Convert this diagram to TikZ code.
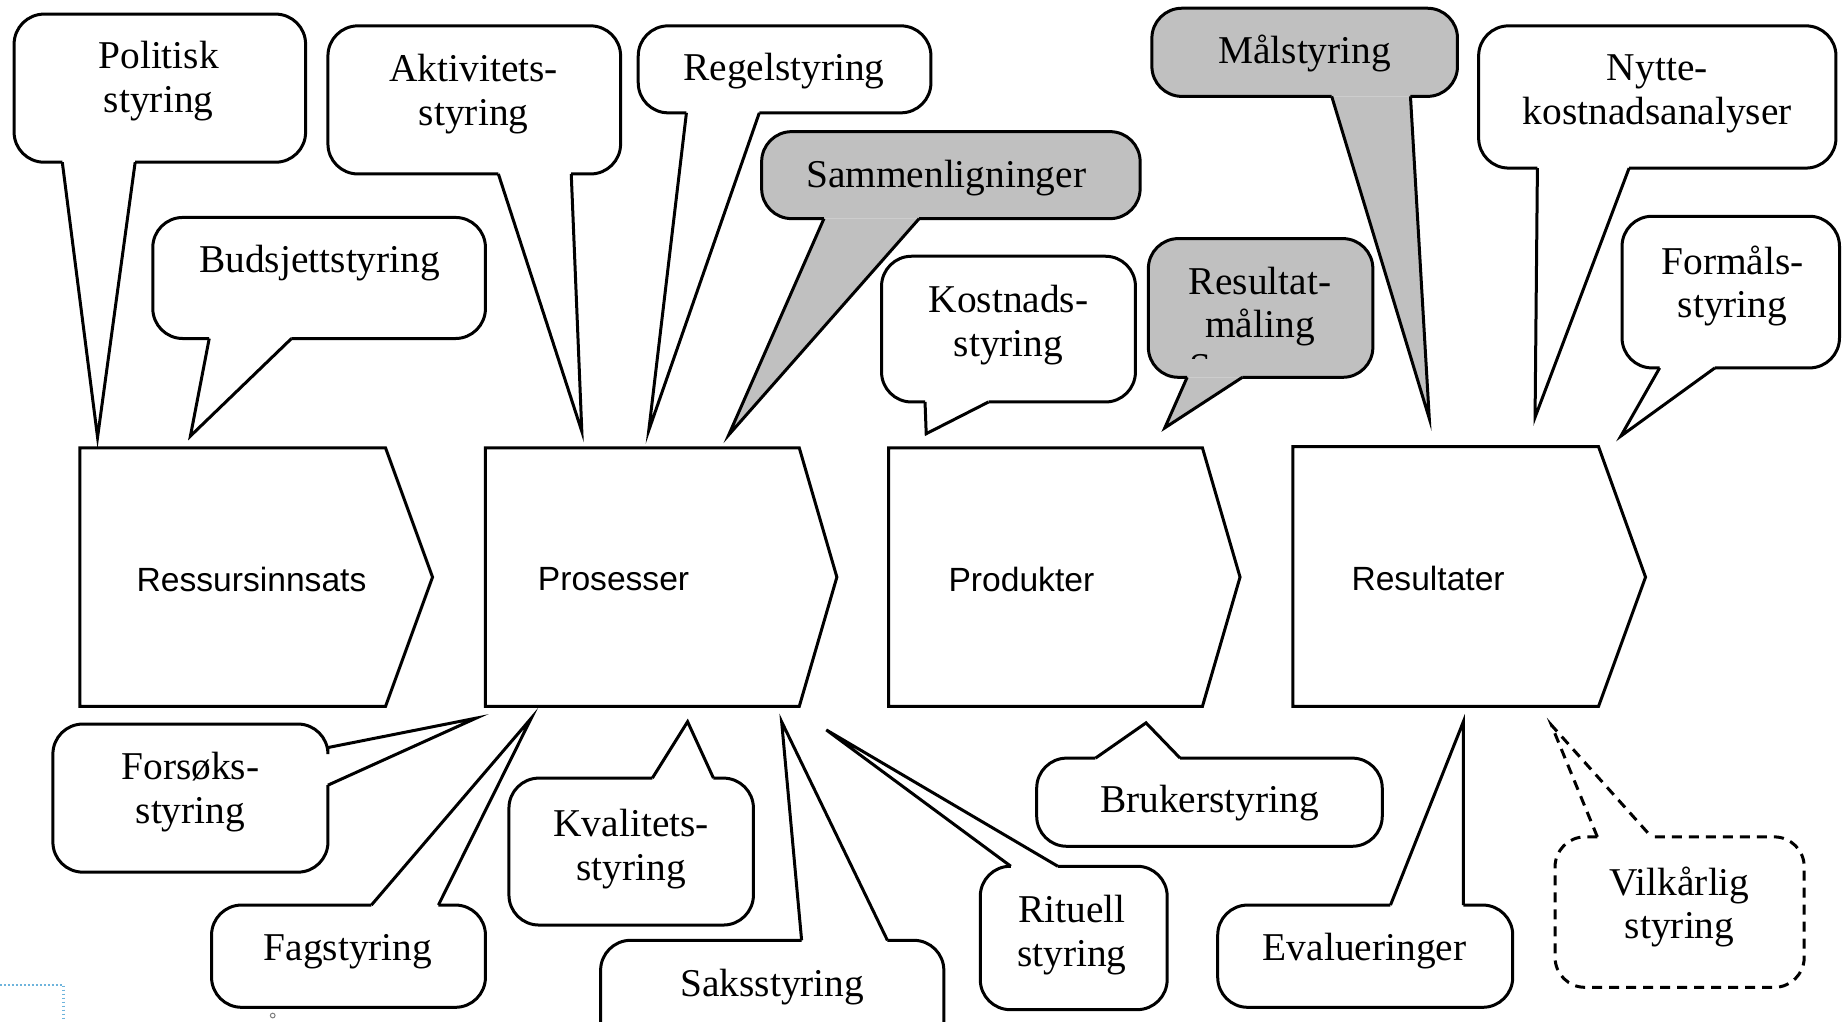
\documentclass[tikz,border=0pt]{standalone}
\usepackage{fontspec}
\setmainfont{Liberation Serif}
\newfontfamily\arialfont{Liberation Sans}
\definecolor{bubblegray}{RGB}{192,192,192}
\definecolor{dotblue}{RGB}{110,180,220}
% #1 fill style, #2 x1, #3 y1, #4 x2, #5 y2, #6 base a, #7 tip, #8 base b
\newcommand\bubbleB[8]{%
  \fill[#1,draw=none,bubble corners] (#2,#3) rectangle (#4,#5);
  \fill[#1,draw=none] (#6) -- (#7) -- (#8) -- cycle;
  \draw[#1,fill=none,bubble corners] (#6) -- (#2,#5) -- (#2,#3) -- (#4,#3) -- (#4,#5) -- (#8);
  \draw[#1,fill=none] (#6) -- (#7) -- (#8);}
\newcommand\bubbleT[8]{%
  \fill[#1,draw=none,bubble corners] (#2,#3) rectangle (#4,#5);
  \fill[#1,draw=none] (#6) -- (#7) -- (#8) -- cycle;
  \draw[#1,fill=none,bubble corners] (#6) -- (#2,#3) -- (#2,#5) -- (#4,#5) -- (#4,#3) -- (#8);
  \draw[#1,fill=none] (#6) -- (#7) -- (#8);}
\newcommand\bubbleR[8]{%
  \fill[#1,draw=none,bubble corners] (#2,#3) rectangle (#4,#5);
  \fill[#1,draw=none] (#6) -- (#7) -- (#8) -- cycle;
  \draw[#1,fill=none,bubble corners] (#6) -- (#4,#3) -- (#2,#3) -- (#2,#5) -- (#4,#5) -- (#8);
  \draw[#1,fill=none] (#6) -- (#7) -- (#8);}
\begin{document}
\begin{tikzpicture}[x=0.5877pt,y=-0.5877pt,line width=1.5pt,line join=miter,
  bubble corners/.style={rounded corners=15pt},
  lbl/.style={font=\fontsize{19.7}{21.7}\selectfont,inner sep=0pt,align=center,yshift=-2pt},
  alab/.style={font=\arialfont\fontsize{16.8}{20}\selectfont,inner sep=0pt},
  stage/.style={draw,fill=white,line width=1.5pt},
  white bubble/.style={fill=white},
  gray bubble/.style={fill=bubblegray},
  dash bubble/.style={fill=white,dash pattern=on 5pt off 3.5pt}]
\useasboundingbox (0,0) rectangle (1568,869);
\clip (0,0) rectangle (1568,869);
\fill[white] (0,0) rectangle (1568,869);

% stages
\draw[stage] (68,381) -- (328,381) -- (368,491) -- (328,601) -- (68,601) -- cycle;
\node[alab] (ress) at (214,493) {Ressursinnsats};
\draw[stage] (413,381) -- (680,381) -- (712,491) -- (680,601) -- (413,601) -- cycle;
\node[alab] (pros) at (522,493) {Prosesser};
\draw[stage] (756,381) -- (1023,381) -- (1055,491) -- (1023,601) -- (756,601) -- cycle;
\node[alab] (prod) at (869,493) {Produkter};
\draw[stage] (1100,380) -- (1360,380) -- (1400,491) -- (1360,601) -- (1100,601) -- cycle;
\node[alab] (resu) at (1215,492) {Resultater};

% top callouts
\bubbleB{white bubble}{12}{12}{260}{138}{53,138}{83,372}{115,138}
\node[lbl] (politisk) at (135,65.5) {Politisk\\styring};
\bubbleB{white bubble}{130}{185}{413}{288}{178,288}{162,371}{248,288}
\node[lbl] (budsjett) at (272,220) {Budsjettstyring};
\bubbleB{white bubble}{279}{22}{528}{148}{424,148}{495,367}{486,148}
\node[lbl] (aktivitet) at (403,76.5) {Aktivitets-\\styring};
\bubbleB{white bubble}{543}{22}{792}{96}{584,96}{552,366}{646,96}
\node[lbl] (regel) at (667,57) {Regelstyring};
\bubbleB{gray bubble}{648}{112}{970}{186}{701,186}{620,370}{782,186}
\node[lbl] (sammen) at (805,148) {Sammenligninger};
\bubbleB{white bubble}{750}{218}{966}{342}{787,342}{788,369}{841,342}
\node[lbl] (kostnad) at (858,273) {Kostnads-\\styring};
\bubbleB{gray bubble}{977}{203}{1168}{321}{1010,321}{991,364}{1057,321}
\node[lbl] (resmaal) at (1072,257.5) {Resultat-\\måling};
\begin{scope}
  \clip (977,203) rectangle (1168,305);
  \node[lbl,anchor=base,yshift=2pt] (resS) at (1021,323.5) {S};
\end{scope}
\bubbleB{gray bubble}{980}{7}{1240}{82}{1133,82}{1216,356}{1200,82}
\node[lbl] (maal) at (1110,42) {Målstyring};
\bubbleB{white bubble}{1258}{22}{1562}{143}{1308,143}{1306,355}{1386,143}
\node[lbl] (nytte) at (1410,76.5) {Nytte-\\kostnadsanalyser};
\bubbleB{white bubble}{1380}{184}{1565}{313}{1412,313}{1379,371}{1459,313}
\node[lbl] (formaal) at (1474,240) {Formåls-\\styring};

% bottom callouts
\bubbleR{white bubble}{45}{616}{279}{742}{279,636}{405,611}{279,668}
\node[lbl] (forsok) at (162,670.5) {Forsøks-\\styring};
\bubbleT{white bubble}{180}{770}{413}{857}{316,770}{452,611}{373,770}
\node[lbl] (fag) at (296,806) {Fagstyring};
\bubbleT{white bubble}{433}{662}{641}{787}{555,662}{585,614}{607,662}
\node[lbl] (kvalitet) at (537,719) {Kvalitets-\\styring};
\bubbleT{white bubble}{511}{800}{803}{895}{682,800}{665,614}{755,800}
\node[lbl] (saks) at (657,836) {Saksstyring};
\bubbleT{white bubble}{834}{737}{993}{859}{860,737}{703,621}{900,737}
\node[lbl] (rituell) at (912,792) {Rituell\\styring};
\bubbleT{white bubble}{882}{645}{1176}{720}{932,645}{975,615}{1004,645}
\node[lbl] (bruker) at (1029,680) {Brukerstyring};
\bubbleT{white bubble}{1036}{770}{1287}{857}{1183,770}{1245,614}{1245,770}
\node[lbl] (evaluering) at (1161,806) {Evalueringer};
\bubbleT{dash bubble}{1323}{712}{1535}{840}{1359,712}{1320,617}{1405,712}
\node[lbl] (vilkaar) at (1429,768) {Vilkårlig\\styring};

% stray marks
\draw[dotblue,line width=1.4pt,dash pattern=on 0.8pt off 1.2pt] (0,838) -- (54,838) -- (54,869);
\draw[gray,line width=0.5pt] (232,864) circle (2);
\end{tikzpicture}
\end{document}
